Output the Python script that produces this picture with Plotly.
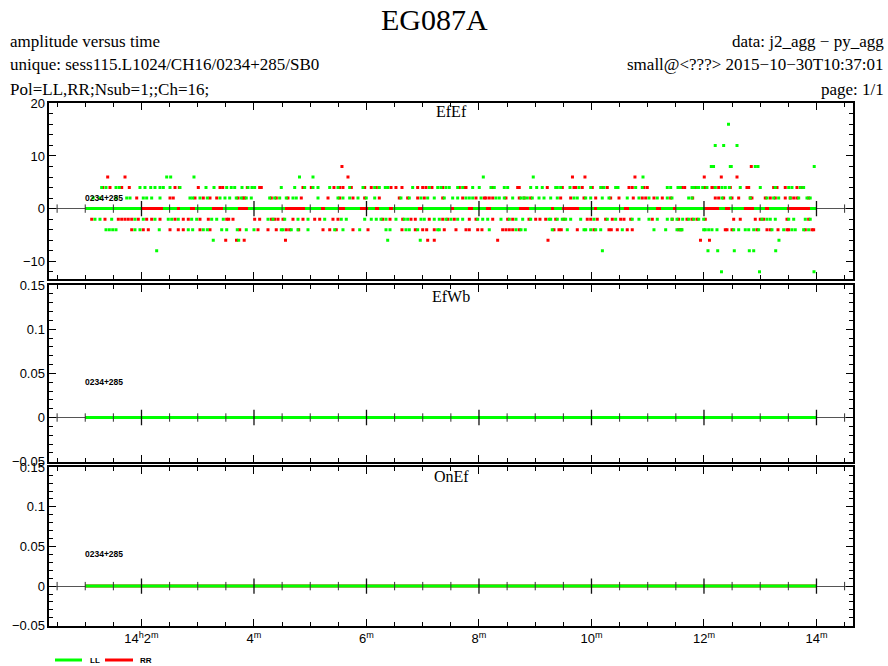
import numpy as np
import plotly.graph_objects as go

W, H = 888, 666

# ---------------- data (time in minutes after 14h00m UT) ----------------
# EfEf panel, LL polarisation: times at each amplitude level
LL_P16 = [12.436]
LL_P12 = [12.20, 12.35, 12.587]
LL_P8 = [12.13, 12.17, 12.468, 12.485, 12.912, 12.96, 13.96]
LL_P6 = [2.448, 2.519, 2.933, 4.809, 5.049, 8.077, 8.965, 10.916]
LL_P4 = [1.292, 1.369, 1.547, 1.605, 1.973, 2.062, 2.164, 2.24, 2.329, 2.388, 2.507, 2.684,
         3.147, 3.289, 3.515, 3.596, 3.657, 3.787, 3.893, 3.964, 4.012, 4.485, 4.724, 4.901,
         5.049, 5.138, 5.346, 5.493, 5.701, 5.938, 6.146, 6.228, 6.334, 6.377, 6.821, 7.116,
         7.266, 7.324, 7.413, 7.472, 7.621, 7.71, 7.888, 8.005, 8.213, 8.272, 8.45, 8.51,
         8.919, 9.026, 9.125, 9.364, 9.392, 9.452, 9.618, 9.778, 9.986, 10.164, 10.222, 10.43,
         10.471, 10.786, 10.903, 11.348, 11.408, 11.538, 11.579, 11.787, 11.817, 11.876,
         11.906, 11.977, 12.053, 12.201, 12.32, 12.379, 12.45, 12.645, 13.001, 13.268, 13.506,
         13.564, 13.712, 13.772]
LL_P2 = [1.14, 1.26, 1.55, 1.737, 1.796, 2.032, 2.092, 2.181, 2.329, 2.862, 2.91, 3.04, 3.17,
         3.396, 3.484, 3.568, 3.685, 3.774, 3.863, 3.952, 4.279, 4.368, 4.457, 4.574, 4.693,
         4.752, 5.138, 5.493, 5.582, 5.701, 5.849, 5.996, 6.146, 6.613, 6.761, 6.969, 7.088,
         7.205, 7.383, 7.532, 7.621, 7.769, 7.828, 7.888, 8.036, 8.302, 8.361, 8.45, 8.599,
         8.747, 8.8, 8.859, 8.948, 9.067, 9.156, 9.275, 9.392, 9.689, 9.748, 9.897, 9.986,
         10.192, 10.311, 10.636, 10.844, 11.022, 11.17, 11.348, 11.431, 11.728, 11.787, 12.32,
         12.468, 12.823, 13.12, 13.239, 13.328, 13.534, 13.684, 13.831, 13.889]
LL_M2 = [1.173, 1.262, 1.47, 1.884, 2.032, 2.24, 2.476, 2.537, 2.654, 2.892, 2.981, 3.248,
         3.337, 3.454, 4.249, 4.338, 4.546, 4.782, 4.96, 5.257, 5.552, 5.641, 5.968, 6.085,
         6.174, 6.258, 6.347, 6.524, 6.672, 6.732, 6.969, 7.028, 7.205, 7.294, 7.413, 7.502,
         7.621, 7.71, 7.977, 8.066, 8.155, 8.391, 8.539, 8.658, 8.777, 8.919, 9.244, 9.275,
         9.392, 9.481, 9.541, 9.63, 9.808, 10.044, 10.281, 10.43, 10.725, 10.844, 11.022,
         11.17, 11.348, 11.431, 11.52, 11.621, 11.728, 11.817, 11.906, 11.995, 13.031, 13.12,
         13.179, 13.268, 13.506, 13.595, 13.801, 13.889]
LL_M4 = [1.369, 1.428, 1.488, 1.547, 1.884, 1.973, 2.316, 2.832, 2.91, 3.099, 3.17, 3.426,
         3.515, 3.703, 3.863, 4.0, 4.485, 4.516, 4.663, 4.782, 4.96, 5.435, 5.582, 5.879,
         6.347, 6.418, 6.702, 6.761, 6.91, 7.266, 7.294, 8.183, 8.658, 8.747, 8.823, 9.303,
         9.57, 9.867, 9.897, 9.986, 10.075, 10.164, 10.548, 11.111, 11.319, 11.52, 11.579,
         11.609, 11.995, 12.023, 12.084, 12.142, 12.231, 12.528, 12.617, 12.734, 12.795,
         12.884, 12.972, 13.209, 13.417, 13.564, 13.623, 13.772, 13.861]
LL_M6 = [3.276, 3.728, 6.377, 6.956, 13.333]
LL_M8 = [2.27, 10.194, 12.071, 12.244, 12.539, 12.806, 12.884, 13.275]
LL_M12 = [12.311, 12.987, 13.956]
# stretches where LL sits at 0 (start, end)
LL_ZERO = [(1.0, 2.004), (2.382, 2.631), (2.684, 2.862), (2.951, 3.253), (3.449, 3.716),
           (3.893, 4.551), (4.907, 5.191), (5.262, 5.493), (5.618, 5.884), (6.027, 6.151),
           (6.222, 6.4), (6.471, 6.916), (7.004, 7.502), (7.556, 7.804), (7.893, 8.124),
           (8.213, 8.711), (8.889, 9.28), (9.333, 9.476), (9.778, 10.044), (10.098, 10.578),
           (10.667, 11.147), (11.236, 11.449), (11.502, 12.018), (12.267, 12.373),
           (12.462, 12.711), (12.889, 13.084), (13.156, 13.476), (13.884, 14.0)]

# EfEf panel, RR polarisation
RR_P8 = [5.564, 12.841]
RR_P6 = [1.399, 1.707, 5.671, 9.662, 9.884, 10.773, 12.005, 12.308, 12.587]
RR_P4 = [1.31, 1.44, 1.648, 1.783, 2.596, 2.672, 3.01, 3.396, 3.444, 3.881, 4.101, 4.13,
         4.871, 5.019, 5.422, 5.524, 5.582, 5.73, 5.968, 6.085, 6.174, 6.436, 6.524, 6.631,
         6.91, 6.999, 7.058, 7.164, 7.355, 7.65, 7.739, 7.769, 8.244, 8.688, 8.716, 9.214,
         9.481, 9.689, 9.719, 9.836, 10.014, 10.192, 10.281, 10.667, 10.725, 10.933, 10.992,
         11.609, 11.657, 11.845, 12.023, 12.142, 12.19, 12.261, 12.468, 12.764, 12.795,
         13.239, 13.298, 13.445, 13.653, 13.742]
RR_P2 = [1.915, 2.507, 2.565, 2.951, 3.099, 3.218, 3.337, 3.716, 3.804, 3.835, 4.308, 4.396,
         4.604, 4.841, 5.316, 5.524, 5.76, 5.968, 6.228, 6.583, 6.732, 6.91, 7.028, 7.355,
         7.71, 7.947, 8.094, 8.124, 8.183, 8.244, 8.48, 8.716, 8.805, 8.919, 9.452, 9.63,
         9.867, 10.075, 10.341, 10.489, 10.743, 10.903, 10.964, 11.111, 11.259, 11.408,
         11.799, 12.201, 12.261, 12.35, 12.498, 12.617, 12.823, 12.853, 13.09, 13.179,
         13.268, 13.445, 13.534, 13.595, 13.653, 13.861]
RR_M2 = [1.115, 1.351, 1.588, 1.648, 1.707, 1.765, 1.826, 1.943, 2.092, 2.181, 2.329, 2.596,
         2.743, 2.832, 3.04, 3.188, 3.515, 3.55, 3.627, 4.012, 4.101, 4.308, 4.368, 4.427,
         4.516, 4.693, 4.871, 5.079, 5.168, 5.404, 5.493, 6.288, 6.418, 6.644, 6.791, 6.868,
         7.116, 7.355, 7.444, 7.561, 7.828, 7.947, 8.244, 8.51, 8.599, 8.889, 9.008, 9.084,
         9.186, 9.364, 9.511, 9.925, 9.986, 10.103, 10.252, 10.37, 10.519, 10.578, 10.697,
         11.081, 11.436, 11.55, 11.698, 11.787, 11.876, 12.023, 12.528, 12.645, 12.912,
         13.001, 13.061, 13.476, 13.861]
RR_M4 = [1.826, 2.032, 2.121, 2.507, 2.654, 2.743, 3.04, 3.218, 3.746, 4.071, 4.249, 4.396,
         4.574, 4.635, 4.795, 5.227, 5.346, 5.463, 5.76, 6.027, 6.631, 6.868, 6.999, 7.07,
         7.205, 7.383, 7.591, 7.769, 7.828, 7.977, 8.053, 8.421, 8.48, 8.539, 8.599, 8.716,
         9.333, 9.422, 9.463, 9.748, 10.044, 10.311, 10.352, 10.459, 10.636, 10.725, 11.55,
         11.596, 12.379, 12.409, 12.498, 12.942, 13.12, 13.179, 13.316, 13.476, 13.506,
         13.801, 13.92, 13.95]
RR_M6 = [3.497, 3.689, 3.826, 4.56, 7.088, 7.205, 8.332, 9.227, 11.938, 12.098]
RR_ZERO = [(1.0, 14.0)]

# EfWb and OnEf panels: both polarisations at 0 over the whole scan
EFWB_LL_ZERO = [(1.0, 14.0)]
EFWB_RR_ZERO = [(1.0, 14.0)]
ONEF_LL_ZERO = [(1.0, 14.0)]
ONEF_RR_ZERO = [(1.0, 14.0)]

PANEL_NAMES = ["EfEf", "EfWb", "OnEf"]
SOURCE = "0234+285"
X_TICKS = [2, 4, 6, 8, 10, 12, 14]
X_TICKTEXT = ["14<sup>h</sup>2<sup>m</sup>", "4<sup>m</sup>", "6<sup>m</sup>", "8<sup>m</sup>",
              "10<sup>m</sup>", "12<sup>m</sup>", "14<sup>m</sup>"]
POLS = ["LL", "RR"]

GREEN = "#00ff00"
RED = "#ff0000"

LL_LEVELS = [(16, LL_P16), (12, LL_P12), (8, LL_P8), (6, LL_P6), (4, LL_P4), (2, LL_P2),
             (-2, LL_M2), (-4, LL_M4), (-6, LL_M6), (-8, LL_M8), (-12, LL_M12)]
RR_LEVELS = [(8, RR_P8), (6, RR_P6), (4, RR_P4), (2, RR_P2), (-2, RR_M2), (-4, RR_M4),
             (-6, RR_M6)]


def points(levels):
    xs, ys = [], []
    for v, ts in levels:
        xs += ts
        ys += [v] * len(ts)
    return xs, ys


def segs(spans):
    xs, ys = [], []
    for a, b in spans:
        xs += [a, b, None]
        ys += [0, 0, None]
    return xs, ys


# ---------------- geometry ----------------
def py(p):
    return 1 - p / H


XDOM = [49.3 / W, 852.7 / W]
YDOMS = [[py(279), py(103.3)], [py(461.7), py(285)], [py(625.7), py(467.3)]]
XRANGE = [0.361, 14.644]

fig = go.Figure()
axn = ["", "2", "3"]

# panel 1 (EfEf)
x, y = segs(RR_ZERO)
fig.add_trace(go.Scatter(x=x, y=y, mode="lines", line=dict(color=RED, width=3), name="RR",
                         showlegend=False, xaxis="x", yaxis="y", hoverinfo="skip"))
x, y = segs(LL_ZERO)
fig.add_trace(go.Scatter(x=x, y=y, mode="lines", line=dict(color=GREEN, width=3), name="LL",
                         showlegend=False, xaxis="x", yaxis="y", hoverinfo="skip"))
x, y = points(RR_LEVELS)
fig.add_trace(go.Scatter(x=x, y=y, mode="markers", name="RR",
                         marker=dict(symbol="square", size=3, color=RED, line=dict(width=0)),
                         showlegend=False, xaxis="x", yaxis="y"))
x, y = points(LL_LEVELS)
fig.add_trace(go.Scatter(x=x, y=y, mode="markers", name="LL",
                         marker=dict(symbol="square", size=3, color=GREEN, line=dict(width=0)),
                         showlegend=False, xaxis="x", yaxis="y"))

# panels 2, 3
for i, (rr, ll) in enumerate([(EFWB_RR_ZERO, EFWB_LL_ZERO), (ONEF_RR_ZERO, ONEF_LL_ZERO)], start=1):
    for spans, col, nm in [(rr, RED, "RR"), (ll, GREEN, "LL")]:
        x, y = segs(spans)
        fig.add_trace(go.Scatter(x=x, y=y, mode="lines", line=dict(color=col, width=3), name=nm,
                                 showlegend=False, xaxis="x" + axn[i], yaxis="y" + axn[i],
                                 hoverinfo="skip"))

# tick marks along the y=0 axis line (PGPLOT style)
minor_t = [float(t) for t in np.arange(0.5, 14.6, 0.5) if t % 2 != 0]
for i in range(3):
    fig.add_trace(go.Scatter(x=minor_t, y=[0] * len(minor_t), mode="markers",
                             marker=dict(symbol="line-ns", size=6, line=dict(width=1, color="#333333")),
                             showlegend=False, hoverinfo="skip", xaxis="x" + axn[i], yaxis="y" + axn[i]))
    fig.add_trace(go.Scatter(x=X_TICKS, y=[0] * len(X_TICKS), mode="markers",
                             marker=dict(symbol="line-ns", size=11, line=dict(width=1.3, color="#111111")),
                             showlegend=False, hoverinfo="skip", xaxis="x" + axn[i], yaxis="y" + axn[i]))

tickfont = dict(family="Liberation Sans, Arial, sans-serif", size=13, color="black")
xbase = dict(range=XRANGE, domain=XDOM, showline=True, linecolor="black", linewidth=1.5,
             mirror="ticks", ticks="inside", ticklen=7, tickwidth=1, tickcolor="black",
             tickmode="array", tickvals=X_TICKS, ticktext=X_TICKTEXT, showgrid=False,
             zeroline=False, tickfont=tickfont, automargin=False,
             minor=dict(tickmode="array", tickvals=minor_t, ticks="inside", ticklen=4,
                        tickwidth=1, tickcolor="black", showgrid=False))
ybase = dict(showline=True, linecolor="black", linewidth=1.5, mirror="ticks", ticks="inside",
             ticklen=7, tickwidth=1, tickcolor="black", showgrid=False, zeroline=True,
             zerolinecolor="#555555", zerolinewidth=1, tickfont=tickfont, tickmode="array",
             automargin=False)

lay = {}
for i in range(3):
    xa = dict(xbase)
    xa["anchor"] = "y" + axn[i]
    if i < 2:
        xa["showticklabels"] = False
    if i > 0:
        xa["matches"] = "x"
    lay["xaxis" + axn[i]] = xa
    ya = dict(ybase)
    ya["anchor"] = "x" + axn[i]
    ya["domain"] = YDOMS[i]
    if i == 0:
        ya["range"] = [-13.37, 20.001]
        ya["tickvals"] = [-10, 0, 10, 20]
        ya["minor"] = dict(tickmode="array", tickvals=list(range(-12, 21, 2)), ticks="inside",
                           ticklen=4, tickcolor="black", showgrid=False)
    else:
        ya["range"] = [-0.05001, 0.15001]
        ya["tickvals"] = [-0.05, 0, 0.05, 0.1, 0.15]
        ya["minor"] = dict(tickmode="array", tickvals=[round(-0.05 + 0.01 * k, 2) for k in range(21)],
                           ticks="inside", ticklen=4, tickcolor="black", showgrid=False)
    lay["yaxis" + axn[i]] = ya

serif = "Liberation Serif, DejaVu Serif, serif"
ann = []
ann.append(dict(text="EG087A", x=434 / W, y=py(20), xref="paper", yref="paper", showarrow=False,
                xanchor="center", yanchor="middle", font=dict(family=serif, size=30, color="black")))
for txt, yy, side in [("amplitude versus time", 41, "l"), ("data: j2_agg − py_agg", 41, "r"),
                      ("unique: sess115.L1024/CH16/0234+285/SB0", 65, "l"),
                      ("small@&lt;???&gt; 2015−10−30T10:37:01", 65, "r"),
                      ("Pol=LL,RR;Nsub=1;;Ch=16;", 89, "l"), ("page: 1/1", 89, "r")]:
    ann.append(dict(text=txt, x=(8 / W if side == "l" else 886 / W), y=py(yy), xref="paper",
                    yref="paper", showarrow=False, xanchor=("left" if side == "l" else "right"),
                    yanchor="middle", font=dict(family=serif, size=17, color="black")))
title_y = [112, 296, 476]
label_v = [2, 0.04, 0.04]
for i in range(3):
    ann.append(dict(text=PANEL_NAMES[i], x=(XDOM[0] + XDOM[1]) / 2, y=py(title_y[i]), xref="paper",
                    yref="paper", showarrow=False, xanchor="center", yanchor="middle",
                    font=dict(family=serif, size=16, color="black")))
    ann.append(dict(text="<b>" + SOURCE + "</b>", x=1.0, y=label_v[i], xref="x" + axn[i],
                    yref="y" + axn[i], showarrow=False, xanchor="left", yanchor="middle",
                    xshift=-2, font=dict(family="Liberation Sans, Arial, sans-serif", size=8.5, color="black")))

# key (LL / RR) drawn below the panels
shapes = []
for (x0, x1), col, nm, tx in [((55, 82), GREEN, POLS[0], 88), ((105, 133), RED, POLS[1], 138)]:
    shapes.append(dict(type="line", xref="paper", yref="paper", x0=x0 / W, x1=x1 / W,
                       y0=py(660), y1=py(660), line=dict(color=col, width=3)))
    ann.append(dict(text="<b>" + nm + "</b>", x=tx / W, y=py(660), xref="paper", yref="paper",
                    showarrow=False, xanchor="left", yanchor="middle",
                    font=dict(family="Liberation Sans, Arial, sans-serif", size=8, color="black")))

fig.update_layout(template="none", width=W, height=H, autosize=False,
                  margin=dict(l=0, r=0, t=0, b=0, pad=0, autoexpand=False),
                  plot_bgcolor="white", paper_bgcolor="white", annotations=ann, shapes=shapes,
                  showlegend=False, **lay)

fig.write_html("out.html", config={"displayModeBar": False, "responsive": False},
               post_script="document.body.style.margin='0';document.body.style.padding='0';"
                           "document.documentElement.style.overflow='hidden';")
